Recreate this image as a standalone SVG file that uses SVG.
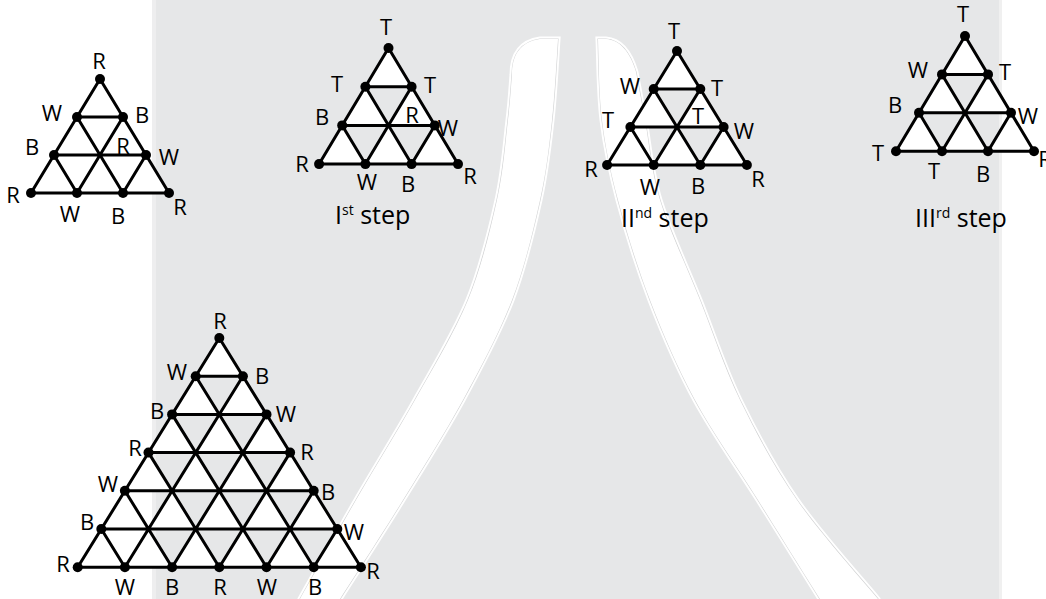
<svg xmlns="http://www.w3.org/2000/svg" width="1046" height="599" viewBox="0 0 1046 599">
  <style>
    .lbl { font-family: "Open Sans", "Liberation Sans", sans-serif; font-size: 22px; fill: #000; text-anchor: middle; }
    .cap { font-family: "Open Sans", "Liberation Sans", sans-serif; font-size: 25px; fill: #000; }
    .sup { font-size: 14px; }
    .up { fill: #ffffff; stroke: none; }
    .edge { fill: none; stroke: #000; stroke-width: 3; stroke-linejoin: round; stroke-linecap: round; }
    .dot { fill: #000; }
    .band { fill: #ffffff; }
    .band-halo { fill: none; stroke: #ffffff; stroke-width: 5; }
    .band-line { fill: none; stroke: #d3d4d5; stroke-width: 1.2; }
  </style>

  <!-- backdrop panel -->
  <g id="backdrop">
    <rect x="0" y="0" width="1046" height="599" fill="#ffffff"/>
    <rect x="152" y="0" width="4" height="599" fill="#eeeeef"/>
    <rect x="156" y="0" width="843" height="599" fill="#e6e7e8"/>
    <rect x="999" y="0" width="3" height="599" fill="#f0f0f0"/>
  </g>

  <!-- two sweeping white bands -->
  <g id="bands">
    <path id="band-left" d="M300 599 C309.3 582.5 336.8 533.2 356 500 C375.2 466.8 396.3 433.3 415 400 C433.7 366.7 454.3 333.3 468 300 C481.7 266.7 490.3 230 497 200 C503.7 170 505.5 140.8 508 120 C510.5 99.2 511.3 82.5 512 75 C512 55 520 42 540 39 L558 39 C557 52.5 555 93.2 552 120 C549 146.8 546.7 170 540 200 C533.3 230 524.8 266.7 512 300 C499.2 333.3 481.2 366.7 463 400 C444.8 433.3 423.5 466.8 403 500 C382.5 533.2 350.5 582.5 340 599 L340 605 L300 605 Z"/>
    <path id="band-right" d="M598 39 C598.7 52.5 598.7 93.2 602 120 C605.3 146.8 610 170 618 200 C626 230 637.2 266.7 650 300 C662.8 333.3 677 366.7 695 400 C713 433.3 737.2 466.8 758 500 C778.8 533.2 809.7 582.5 820 599 L820 605 L878 605 L878 599 C864.5 582.5 820 533.2 797 500 C774 466.8 756.2 433.3 740 400 C723.8 366.7 713.3 333.3 700 300 C686.7 266.7 669.2 230 660 200 C650.8 170 649 141.3 645 120 C641 98.7 637.5 80 636 72 C630 52 620 40 606 39 Z"/>
    <use href="#band-left" class="band-halo"/>
    <use href="#band-right" class="band-halo"/>
    <use href="#band-left" class="band-line"/>
    <use href="#band-right" class="band-line"/>
    <use href="#band-left" class="band"/>
    <use href="#band-right" class="band"/>
  </g>

  <!-- starting triangle -->
  <g id="tri-start">
    <path class="up" d="M100 79L77 117H123Z M77 117L54 155H100Z M123 117L100 155H146Z M54 155L31 193H77Z M100 155L77 193H123Z M146 155L123 193H169Z"/>
    <path class="edge" d="M100 79L31 193H169Z M77 117H123 M54 155H146 M123 117L77 193 M146 155L123 193 M77 117L123 193 M54 155L77 193"/>
    <g class="dot">
      <circle cx="100" cy="79" r="5"/>
      <circle cx="77" cy="117" r="5"/><circle cx="123" cy="117" r="5"/>
      <circle cx="54" cy="155" r="5"/><circle cx="146" cy="155" r="5"/>
      <circle cx="31" cy="193" r="5"/><circle cx="77" cy="193" r="5"/><circle cx="123" cy="193" r="5"/><circle cx="169" cy="193" r="5"/>
    </g>
    <text class="lbl" x="99" y="69">R</text>
    <text class="lbl" x="52" y="121">W</text>
    <text class="lbl" x="142" y="123">B</text>
    <text class="lbl" x="32" y="155">B</text>
    <text class="lbl" x="123" y="154">R</text>
    <text class="lbl" x="169" y="165">W</text>
    <text class="lbl" x="13" y="203">R</text>
    <text class="lbl" x="70" y="222">W</text>
    <text class="lbl" x="118" y="224">B</text>
    <text class="lbl" x="180" y="215">R</text>
  </g>

  <!-- first step -->
  <g id="tri-step1">
    <path class="up" d="M388.5 48L365.4 86.7H411.6Z M365.4 86.7L342.2 125.4H388.5Z M411.6 86.7L388.5 125.4H434.8Z M342.2 125.4L319.1 164.1H365.4Z M388.5 125.4L365.4 164.1H411.6Z M434.8 125.4L411.6 164.1H458Z"/>
    <path class="edge" d="M388.5 48L319.1 164.1H458Z M365.4 86.7H411.6 M342.2 125.4H434.8 M411.6 86.7L365.4 164.1 M434.8 125.4L411.6 164.1 M365.4 86.7L411.6 164.1 M342.2 125.4L365.4 164.1"/>
    <g class="dot">
      <circle cx="388.5" cy="48" r="5"/>
      <circle cx="365.4" cy="86.7" r="5"/><circle cx="411.6" cy="86.7" r="5"/>
      <circle cx="342.2" cy="125.4" r="5"/><circle cx="434.8" cy="125.4" r="5"/>
      <circle cx="319.1" cy="164.1" r="5"/><circle cx="365.4" cy="164.1" r="5"/><circle cx="411.6" cy="164.1" r="5"/><circle cx="458" cy="164.1" r="5"/>
    </g>
    <text class="lbl" x="386" y="35">T</text>
    <text class="lbl" x="337" y="92">T</text>
    <text class="lbl" x="430" y="93">T</text>
    <text class="lbl" x="322" y="125">B</text>
    <text class="lbl" x="412" y="123">R</text>
    <text class="lbl" x="448" y="136">W</text>
    <text class="lbl" x="302" y="172">R</text>
    <text class="lbl" x="367" y="190">W</text>
    <text class="lbl" x="408" y="192">B</text>
    <text class="lbl" x="470" y="184">R</text>
    <text class="cap" x="335" y="224">I<tspan class="sup" dy="-9">st</tspan><tspan dy="9"> step</tspan></text>
  </g>

  <!-- second step -->
  <g id="tri-step2">
    <path class="up" d="M677 51L653.7 89H700.3Z M653.7 89L630.4 127H677Z M700.3 89L677 127H723.6Z M630.4 127L607.1 165H653.7Z M677 127L653.7 165H700.3Z M723.6 127L700.3 165H746.9Z"/>
    <path class="edge" d="M677 51L607.1 165H746.9Z M653.7 89H700.3 M630.4 127H723.6 M700.3 89L653.7 165 M723.6 127L700.3 165 M653.7 89L700.3 165 M630.4 127L653.7 165"/>
    <g class="dot">
      <circle cx="677" cy="51" r="5"/>
      <circle cx="653.7" cy="89" r="5"/><circle cx="700.3" cy="89" r="5"/>
      <circle cx="630.4" cy="127" r="5"/><circle cx="723.6" cy="127" r="5"/>
      <circle cx="607.1" cy="165" r="5"/><circle cx="653.7" cy="165" r="5"/><circle cx="700.3" cy="165" r="5"/><circle cx="746.9" cy="165" r="5"/>
    </g>
    <text class="lbl" x="674" y="39">T</text>
    <text class="lbl" x="630" y="94">W</text>
    <text class="lbl" x="717" y="96">T</text>
    <text class="lbl" x="608" y="128">T</text>
    <text class="lbl" x="698" y="124">T</text>
    <text class="lbl" x="744" y="139">W</text>
    <text class="lbl" x="591" y="177">R</text>
    <text class="lbl" x="650" y="195">W</text>
    <text class="lbl" x="698" y="194">B</text>
    <text class="lbl" x="758" y="187">R</text>
    <text class="cap" x="621" y="227">II<tspan class="sup" dy="-9">nd</tspan><tspan dy="9"> step</tspan></text>
  </g>

  <!-- third step -->
  <g id="tri-step3">
    <path class="up" d="M965 36L942 74.4H988Z M942 74.4L919 112.8H965Z M988 74.4L965 112.8H1011Z M919 112.8L896 151.2H942Z M965 112.8L942 151.2H988Z M1011 112.8L988 151.2H1034Z"/>
    <path class="edge" d="M965 36L896 151.2H1034Z M942 74.4H988 M919 112.8H1011 M988 74.4L942 151.2 M1011 112.8L988 151.2 M942 74.4L988 151.2 M919 112.8L942 151.2"/>
    <g class="dot">
      <circle cx="965" cy="36" r="5"/>
      <circle cx="942" cy="74.4" r="5"/><circle cx="988" cy="74.4" r="5"/>
      <circle cx="919" cy="112.8" r="5"/><circle cx="1011" cy="112.8" r="5"/>
      <circle cx="896" cy="151.2" r="5"/><circle cx="942" cy="151.2" r="5"/><circle cx="988" cy="151.2" r="5"/><circle cx="1034" cy="151.2" r="5"/>
    </g>
    <text class="lbl" x="963" y="22">T</text>
    <text class="lbl" x="918" y="78">W</text>
    <text class="lbl" x="1005" y="80">T</text>
    <text class="lbl" x="895" y="113">B</text>
    <text class="lbl" x="1028" y="124">W</text>
    <text class="lbl" x="878" y="161">T</text>
    <text class="lbl" x="934" y="179">T</text>
    <text class="lbl" x="983" y="182">B</text>
    <text class="lbl" x="1045" y="167">R</text>
    <text class="cap" x="915" y="227">III<tspan class="sup" dy="-9">rd</tspan><tspan dy="9"> step</tspan></text>
  </g>

  <!-- larger six-row triangle -->
  <g id="tri-large">
    <path class="up" d="M219.3 338L195.7 376.2H242.9Z
      M195.7 376.2L172.1 414.4H219.3Z M242.9 376.2L219.3 414.4H266.5Z
      M172.1 414.4L148.5 452.6H195.7Z M219.3 414.4L195.7 452.6H242.9Z M266.5 414.4L242.9 452.6H290.1Z
      M148.5 452.6L124.9 490.8H172.1Z M195.7 452.6L172.1 490.8H219.3Z M242.9 452.6L219.3 490.8H266.5Z M290.1 452.6L266.5 490.8H313.7Z
      M124.9 490.8L101.3 529H148.5Z M172.1 490.8L148.5 529H195.7Z M219.3 490.8L195.7 529H242.9Z M266.5 490.8L242.9 529H290.1Z M313.7 490.8L290.1 529H337.3Z
      M101.3 529L77.7 567.2H124.9Z M148.5 529L124.9 567.2H172.1Z M195.7 529L172.1 567.2H219.3Z M242.9 529L219.3 567.2H266.5Z M290.1 529L266.5 567.2H313.7Z M337.3 529L313.7 567.2H360.9Z"/>
    <path class="edge" d="M219.3 338L77.7 567.2H360.9Z
      M195.7 376.2H242.9 M172.1 414.4H266.5 M148.5 452.6H290.1 M124.9 490.8H313.7 M101.3 529H337.3
      M242.9 376.2L124.9 567.2 M266.5 414.4L172.1 567.2 M290.1 452.6L219.3 567.2 M313.7 490.8L266.5 567.2 M337.3 529L313.7 567.2
      M195.7 376.2L313.7 567.2 M172.1 414.4L266.5 567.2 M148.5 452.6L219.3 567.2 M124.9 490.8L172.1 567.2 M101.3 529L124.9 567.2"/>
    <g class="dot">
      <circle cx="219.3" cy="338" r="5"/>
      <circle cx="195.7" cy="376.2" r="5"/><circle cx="242.9" cy="376.2" r="5"/>
      <circle cx="172.1" cy="414.4" r="5"/><circle cx="266.5" cy="414.4" r="5"/>
      <circle cx="148.5" cy="452.6" r="5"/><circle cx="290.1" cy="452.6" r="5"/>
      <circle cx="124.9" cy="490.8" r="5"/><circle cx="313.7" cy="490.8" r="5"/>
      <circle cx="101.3" cy="529" r="5"/><circle cx="337.3" cy="529" r="5"/>
      <circle cx="77.7" cy="567.2" r="5"/><circle cx="124.9" cy="567.2" r="5"/><circle cx="172.1" cy="567.2" r="5"/><circle cx="219.3" cy="567.2" r="5"/><circle cx="266.5" cy="567.2" r="5"/><circle cx="313.7" cy="567.2" r="5"/><circle cx="360.9" cy="567.2" r="5"/>
    </g>
    <text class="lbl" x="220" y="329">R</text>
    <text class="lbl" x="177" y="380">W</text>
    <text class="lbl" x="262" y="384">B</text>
    <text class="lbl" x="157" y="419">B</text>
    <text class="lbl" x="286" y="422">W</text>
    <text class="lbl" x="135" y="456">R</text>
    <text class="lbl" x="307" y="460">R</text>
    <text class="lbl" x="108" y="492">W</text>
    <text class="lbl" x="328" y="500">B</text>
    <text class="lbl" x="87" y="530">B</text>
    <text class="lbl" x="354" y="540">W</text>
    <text class="lbl" x="63" y="572">R</text>
    <text class="lbl" x="125" y="595">W</text>
    <text class="lbl" x="172" y="595">B</text>
    <text class="lbl" x="220" y="595">R</text>
    <text class="lbl" x="267" y="595">W</text>
    <text class="lbl" x="315" y="595">B</text>
    <text class="lbl" x="373" y="579">R</text>
  </g>
</svg>
